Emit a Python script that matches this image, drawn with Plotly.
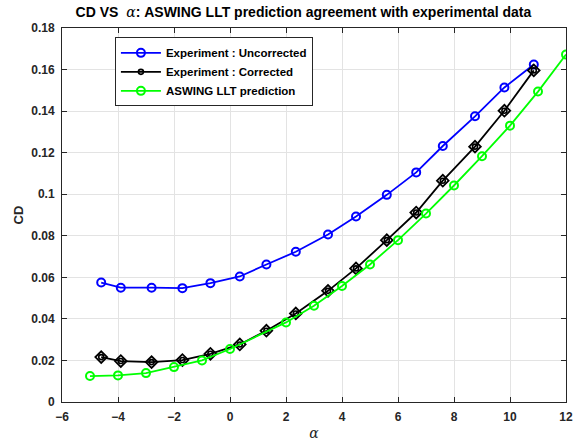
import plotly.graph_objects as go

alpha_exp = [-4.6, -3.9, -2.8, -1.7, -0.7, 0.35, 1.3, 2.35, 3.5, 4.5, 5.6, 6.65, 7.6, 8.75, 9.8, 10.85]
cd_uncorrected = [0.0575, 0.0550, 0.0550, 0.0548, 0.0572, 0.0604, 0.0662, 0.0723, 0.0806, 0.0893,
                  0.0997, 0.1105, 0.1232, 0.1375, 0.1514, 0.1624]
cd_corrected = [0.0216, 0.0197, 0.0192, 0.0202, 0.0232, 0.0277, 0.0343, 0.0426, 0.0535, 0.0643,
                0.0779, 0.0912, 0.1065, 0.1229, 0.1402, 0.1596]
alpha_llt = [-5, -4, -3, -2, -1, 0, 2, 3, 4, 5, 6, 7, 8, 9, 10, 11, 12]
cd_llt = [0.0125, 0.0128, 0.0139, 0.0168, 0.0200, 0.0255, 0.0383, 0.0463, 0.0558, 0.0662,
          0.0779, 0.0907, 0.1042, 0.1183, 0.1330, 0.1494, 0.1672]
x_ticks = [-6, -4, -2, 0, 2, 4, 6, 8, 10, 12]
y_ticks = [0, 0.02, 0.04, 0.06, 0.08, 0.1, 0.12, 0.14, 0.16, 0.18]
y_tick_text = ["0", "0.02", "0.04", "0.06", "0.08", "0.1", "0.12", "0.14", "0.16", "0.18"]

FONT = "Liberation Sans, Arial, sans-serif"
BLUE = "#0000ff"
GREEN = "#00ff00"

fig = go.Figure()
fig.add_trace(go.Scatter(
    x=alpha_exp, y=cd_uncorrected, mode="lines+markers",
    name="<b>Experiment : Uncorrected</b>",
    line=dict(color=BLUE, width=1.8),
    marker=dict(symbol="circle-open", size=8, color=BLUE, line=dict(width=2, color=BLUE)),
))
fig.add_trace(go.Scatter(
    x=alpha_exp, y=cd_corrected, mode="lines+markers",
    name="<b>Experiment : Corrected</b>",
    line=dict(color="black", width=1.8),
    marker=dict(symbol="circle-open", size=5, color="black", line=dict(width=1.6, color="black")),
))
fig.add_trace(go.Scatter(
    x=alpha_exp, y=cd_corrected, mode="markers", showlegend=False,
    marker=dict(symbol="diamond-open", size=9, color="black", line=dict(width=1.8, color="black")),
))
fig.add_trace(go.Scatter(
    x=alpha_llt, y=cd_llt, mode="lines+markers",
    name="<b>ASWING LLT prediction</b>",
    line=dict(color=GREEN, width=1.8),
    marker=dict(symbol="circle-open", size=8, color=GREEN, line=dict(width=2, color=GREEN)),
))

axis_common = dict(
    showline=True, linecolor="#262626", linewidth=1, mirror="ticks",
    ticks="inside", ticklen=5, tickcolor="#262626",
    showgrid=True, gridcolor="#e3e3e3", gridwidth=1, zeroline=False,
    tickfont=dict(family=FONT, size=12, color="#262626", weight="bold"),
    automargin=False,
)

fig.update_layout(
    width=578, height=444,
    margin=dict(l=62, r=12, t=28, b=42),
    paper_bgcolor="white", plot_bgcolor="white",
    title=dict(
        text="<b>CD VS  <span style='font-family:DejaVu Serif, serif; font-weight:normal'><i>α</i></span>: ASWING LLT prediction agreement with experimental data</b>",
        x=0.525, xanchor="center", y=0.972, yanchor="middle",
        font=dict(family=FONT, size=14, color="black"),
    ),
    xaxis=dict(range=[-6, 12], tickvals=x_ticks, ticklabelstandoff=4, **axis_common,
               title=dict(text="<i>α</i>", font=dict(family="DejaVu Serif, serif", size=14, color="#262626"), standoff=4)),
    yaxis=dict(range=[0, 0.18], tickvals=y_ticks, ticktext=y_tick_text, ticklabelstandoff=4, **axis_common,
               title=dict(text="<b>CD</b>", font=dict(family=FONT, size=13, color="#262626"), standoff=4)),
    legend=dict(
        x=0.105, y=0.975, xanchor="left", yanchor="top",
        bgcolor="white", bordercolor="#262626", borderwidth=1,
        font=dict(family=FONT, size=11.5, color="black"),
        tracegroupgap=0, itemwidth=40,
    ),
    showlegend=True,
)

fig.write_html("out.html")
